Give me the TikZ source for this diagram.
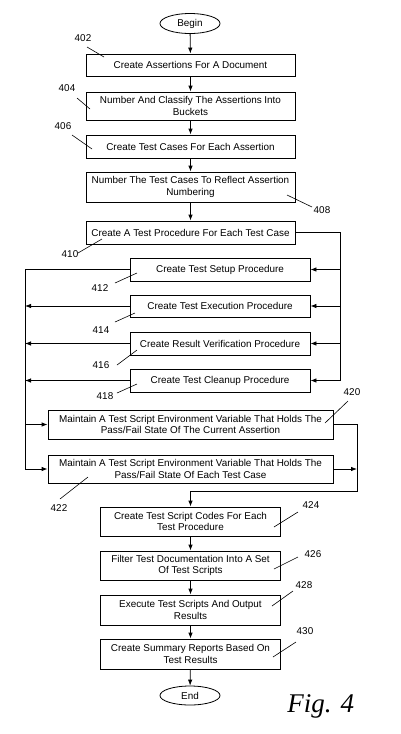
\documentclass[tikz,border=0pt]{standalone}
\usepackage{fontspec}
\setmainfont{Liberation Sans}
\newfontfamily\figfont{Liberation Serif}
\usetikzlibrary{shapes.geometric,arrows.meta}

\tikzset{
	stepbox/.style={draw, align=center, minimum height=23pt, inner sep=2pt},
	terminal/.style={draw, ellipse, minimum width=60pt, minimum height=20pt, inner sep=0pt},
	refnum/.style={inner sep=0pt},
}

\begin{document}
\begin{tikzpicture}[x=1pt, y=-1pt, line width=0.8pt, >={Latex[length=6pt,width=4.5pt]},
	every node/.append style={font=\fontsize{9.9}{11.7}\selectfont}]
		\useasboundingbox (0,0) rectangle (400,734);

		% main column
		\node [terminal] (begin) at (190,23.5) {Begin};
		\node [stepbox, minimum width=209pt, minimum height=22pt] (s402) at (190.5,65) {Create Assertions For A Document};
		\node [stepbox, minimum width=209pt, minimum height=28pt] (s404) at (190.5,106) {Number And Classify The Assertions Into\\Buckets};
		\node [stepbox, minimum width=209pt] (s406) at (190.5,146.5) {Create Test Cases For Each Assertion};
		\node [stepbox, minimum width=209pt, minimum height=30pt] (s408) at (190.5,187) {Number The Test Cases To Reflect Assertion\\Numbering};
		\node [stepbox, minimum width=209pt] (s410) at (190.5,232.5) {Create A Test Procedure For Each Test Case};

		\node [stepbox, minimum width=180pt] (s412) at (220,269.5) {Create Test Setup Procedure};
		\node [stepbox, minimum width=180pt, minimum height=22pt] (s414) at (220,306) {Create Test Execution Procedure};
		\node [stepbox, minimum width=180pt] (s416) at (220,343.5) {Create Result Verification Procedure};
		\node [stepbox, minimum width=180pt] (s418) at (220,380.5) {Create Test Cleanup Procedure};

		\node [stepbox, minimum width=285pt, minimum height=29pt] (s420) at (190.5,424.5) {Maintain A Test Script Environment Variable That Holds The\\Pass/Fail State Of The Current Assertion};
		\node [stepbox, minimum width=285pt, minimum height=28pt] (s422) at (190.5,469) {Maintain A Test Script Environment Variable That Holds The\\Pass/Fail State Of Each Test Case};

		\node [stepbox, minimum width=180pt, minimum height=29pt] (s424) at (190.5,521.5) {Create Test Script Codes For Each\\Test Procedure};
		\node [stepbox, minimum width=180pt, minimum height=29pt] (s426) at (190.5,565.5) {Filter Test Documentation Into A Set\\Of Test Scripts};
		\node [stepbox, minimum width=180pt, minimum height=30pt] (s428) at (190.5,610) {Execute Test Scripts And Output\\Results};
		\node [stepbox, minimum width=180pt, minimum height=30pt] (s430) at (190.5,654) {Create Summary Reports Based On\\Test Results};
		\node [terminal, minimum height=19pt] (end) at (190,695.5) {End};

		\draw [->] (begin) -- (s402);
		\draw [->] (s402) -- (s404);
		\draw [->] (s404) -- (s406);
		\draw [->] (s406) -- (s408);
		\draw [->] (s408) -- (s410);

		% right bus feeding the procedures
		\coordinate (rbus) at (340,232.5);
		\draw (s410.east) -- (rbus) -- (rbus |- s418.east);
		\draw [->] (rbus |- s412.east) -- (s412.east);
		\draw [->] (rbus |- s414.east) -- (s414.east);
		\draw [->] (rbus |- s416.east) -- (s416.east);
		\draw [->] (rbus |- s418.east) -- (s418.east);

		% left bus
		\coordinate (lbus) at (25,269.5);
		\draw (s412.west) -- (lbus);
		\draw [->] (lbus) |- (s422.west);
		\draw [->] (s414.west) -- (lbus |- s414.west);
		\draw [->] (s416.west) -- (lbus |- s416.west);
		\draw [->] (s418.west) -- (lbus |- s418.west);
		\draw [->] (lbus |- s420.west) -- (s420.west);

		% merge into 424
		\coordinate (mbus) at (357,424.5);
		\coordinate (merge) at (190.5,491);
		\draw [->] (s420.east) -- (mbus) |- (merge) -- (s424.north);
		\draw [->] (s422.east) -- (mbus |- s422.east);

		\draw [->] (s424) -- (s426);
		\draw [->] (s426) -- (s428);
		\draw [->] (s428) -- (s430);
		\draw [->] (s430) -- (end);

		% reference numerals
		\node [refnum] (n402) at (83,38.5) {402};
		\node [refnum] (n404) at (67,88) {404};
		\node [refnum] (n406) at (63,126) {406};
		\node [refnum] (n408) at (322,210) {408};
		\node [refnum] (n410) at (70,254) {410};
		\node [refnum] (n412) at (100,288) {412};
		\node [refnum] (n414) at (101,330) {414};
		\node [refnum] (n416) at (101,365) {416};
		\node [refnum] (n418) at (105,396) {418};
		\node [refnum] (n420) at (352,392) {420};
		\node [refnum] (n422) at (59,508) {422};
		\node [refnum] (n424) at (311,505) {424};
		\node [refnum] (n426) at (313,554) {426};
		\node [refnum] (n428) at (304,585) {428};
		\node [refnum] (n430) at (305,631) {430};

		\draw [line width=0.6pt] (n402) ++(4,8.5) -- ++(17,10);
		\draw [line width=0.6pt] (n404) ++(10,10) -- ++(13,11);
		\draw [line width=0.6pt] (n406) ++(9,9) -- ++(20,14);
		\draw [line width=0.6pt] (n408) ++(-10,-3) -- ++(-25,-12);
		\draw [line width=0.6pt] (n410) ++(8,-1) -- ++(24,-14);
		\draw [line width=0.6pt] (n412) ++(15,-5) -- ++(22,-10);
		\draw [line width=0.6pt] (n414) ++(14,-8) -- ++(20,-9);
		\draw [line width=0.6pt] (n416) ++(16,0) -- ++(20,-15);
		\draw [line width=0.6pt] (n418) ++(12,-3) -- ++(20,-9);
		\draw [line width=0.6pt] (n420) ++(-4,9) -- ++(-23,22);
		\draw [line width=0.6pt] (n422) ++(1,-9) -- ++(28,-22);
		\draw [line width=0.6pt] (n424) ++(-13,7) -- ++(-24,15);
		\draw [line width=0.6pt] (n426) ++(-15,3) -- ++(-24,12);
		\draw [line width=0.6pt] (n428) ++(-11,6) -- ++(-21,15);
		\draw [line width=0.6pt] (n430) ++(-9,11) -- ++(-23,15);

		\node [anchor=base west, inner sep=0pt, font=\figfont\itshape\fontsize{27}{30}\selectfont] (figlabel) at (287,712) {Fig. 4};
	\end{tikzpicture}
\end{document}
